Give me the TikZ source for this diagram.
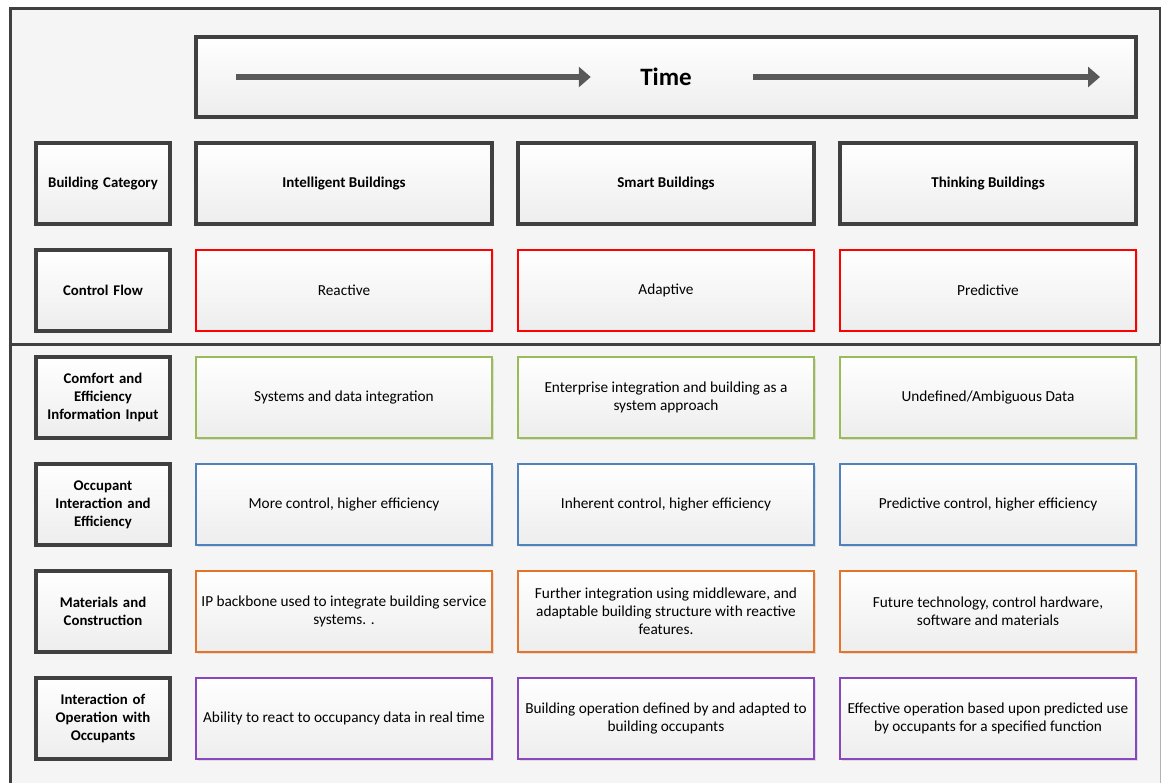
\documentclass[tikz,border=0pt]{standalone}
\usepackage{fontspec}
\setmainfont{Carlito}
\usetikzlibrary{positioning, arrows.meta, shadows}

\definecolor{darkline}{HTML}{404040}
\definecolor{framegray}{HTML}{F5F5F5}
\definecolor{ctrlred}{HTML}{FF0000}
\definecolor{infogreen}{HTML}{9BBB59}
\definecolor{occblue}{HTML}{4F81BD}
\definecolor{matorange}{HTML}{E3742A}
\definecolor{operpurple}{HTML}{8A46BE}
\definecolor{arrowgray}{HTML}{595959}

\begin{document}
\begin{tikzpicture}[
        x=1pt, y=-1pt,
        node distance=26pt and 26pt,
        basebox/.style = {outer sep=0pt, inner sep=2pt, align=center, top color=white, bottom color=gray!14, drop shadow={opacity=0.2, shadow xshift=1.5pt, shadow yshift=-1.5pt}},
        lblbox/.style = {basebox, draw=darkline, line width=3.5pt, minimum width=134pt, minimum height=81pt, text width=128pt, font=\fontsize{14.8}{18}\selectfont\bfseries},
        hdrbox/.style = {basebox, draw=darkline, line width=3.5pt, minimum width=296pt, minimum height=81pt, font=\fontsize{15}{18}\selectfont\bfseries},
        cellbox/.style = {basebox, draw=#1, line width=2.4pt, minimum width=296pt, minimum height=81pt, font=\fontsize{15.3}{18}\selectfont},
        timearrow/.style = {-{Triangle[length=12pt, width=20pt]}, line width=6pt, draw=arrowgray}
        ]
    \useasboundingbox (0,0) rectangle (1161,783);

        % Rahmen
        \fill[white] (0,0) rectangle (1161,783);
        \fill[framegray] (10,9) rectangle (1160,790);
        \draw[line width=3pt, darkline] (10,9) rectangle (1160,344);
        \draw[line width=1pt, gray!60] (1160,344) -- (1160,790);
        \draw[line width=3pt, darkline] (10,344) -- (10,790);

        % Zeilenkoepfe
        \node[lblbox] (cat) at (103,183.5) {Building Category};
        \node[lblbox, below=of cat] (flow) {Control Flow};
        \node[lblbox, below=of flow] (comfort) {Comfort and\\Efficiency\\Information Input};
        \node[lblbox, below=of comfort] (occupant) {Occupant\\Interaction and\\Efficiency};
        \node[lblbox, below=of occupant] (material) {Materials and\\Construction};
        \node[lblbox, below=of material] (operation) {Interaction of\\Operation with\\Occupants};

        % Kopfzeile
        \node[hdrbox, right=of cat] (intel) {Intelligent Buildings};
        \node[hdrbox, right=of intel] (smart) {Smart Buildings};
        \node[hdrbox, right=of smart] (think) {Thinking Buildings};

        % Zeitachse
        \node[hdrbox, minimum width=940pt, minimum height=80pt, above=of smart] (time) {};
        \node[font=\fontsize{25}{28}\selectfont\bfseries] (timetext) at (time.center) {Time};
        \coordinate (tleft) at ([xshift=40pt]time.west);
        \coordinate (tright) at ([xshift=-36pt]time.east);
        \draw[timearrow] (tleft) -- ([xshift=-46pt]timetext.west);
        \draw[timearrow] ([xshift=58pt]timetext.east) -- (tright);

        % Control Flow
        \node[cellbox=ctrlred, right=of flow] (reactive) {Reactive};
        \node[cellbox=ctrlred, right=of reactive] (adaptive) {Adaptive};
        \node[cellbox=ctrlred, right=of adaptive] (predictive) {Predictive};

        % Comfort and Efficiency
        \node[cellbox=infogreen, right=of comfort] (sysdata) {Systems and data integration};
        \node[cellbox=infogreen, right=of sysdata] (enterprise) {Enterprise integration and building as a\\system approach};
        \node[cellbox=infogreen, right=of enterprise] (undefined) {Undefined/Ambiguous Data};

        % Occupant Interaction
        \node[cellbox=occblue, right=of occupant] (morectrl) {More control, higher efficiency};
        \node[cellbox=occblue, right=of morectrl] (inherent) {Inherent control, higher efficiency};
        \node[cellbox=occblue, right=of inherent] (predctrl) {Predictive control, higher efficiency};

        % Materials and Construction
        \node[cellbox=matorange, right=of material] (backbone) {IP backbone used to integrate building service\\systems. .};
        \node[cellbox=matorange, right=of backbone] (middleware) {Further integration using middleware, and\\adaptable building structure with reactive\\features.};
        \node[cellbox=matorange, right=of middleware] (future) {Future technology, control hardware,\\software and materials};

        % Interaction of Operation
        \node[cellbox=operpurple, right=of operation] (realtime) {Ability to react to occupancy data in real time};
        \node[cellbox=operpurple, right=of realtime] (adapted) {Building operation defined by and adapted to\\building occupants};
        \node[cellbox=operpurple, right=of adapted] (effective) {Effective operation based upon predicted use\\by occupants for a specified function};

        \end{tikzpicture}
\end{document}
